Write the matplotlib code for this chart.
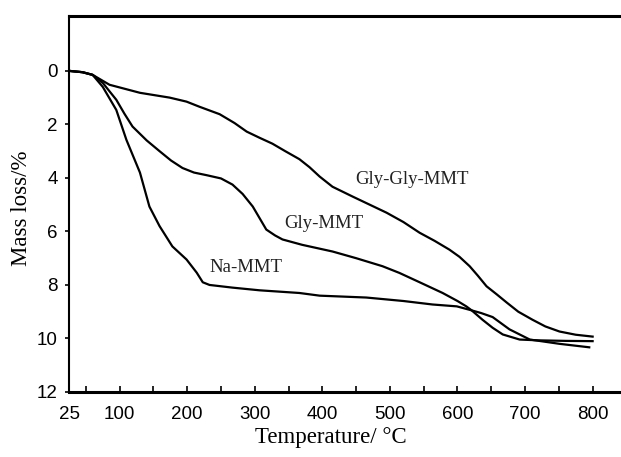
import matplotlib
matplotlib.use("Agg")
import matplotlib.pyplot as plt

# Gly-Gly-MMT
t_gg = [25, 45, 60, 85, 130, 174, 199, 218, 248, 270, 288, 307, 326, 345, 366, 381, 396, 415, 445, 470,
        495, 520, 544, 566, 588, 603, 618, 630, 643, 658, 673, 690, 711, 730, 751, 775, 800]
m_gg = [0, 0.05, 0.15, 0.52, 0.82, 1.0, 1.15, 1.34, 1.62, 1.95, 2.27, 2.5, 2.72, 3.0, 3.3, 3.6, 3.95, 4.33, 4.7, 5.0,
        5.3, 5.65, 6.05, 6.35, 6.68, 6.95, 7.3, 7.65, 8.05, 8.35, 8.66, 9.0, 9.3, 9.55, 9.74, 9.86, 9.93]

# Gly-MMT
t_g = [25, 45, 60, 75, 95, 107, 119, 140, 159, 176, 193, 210, 229, 250, 267, 282, 297, 307, 317, 330, 341,
       370, 415, 450, 489, 514, 544, 578, 600, 613, 621, 637, 652, 667, 692, 720, 760, 800]
m_g = [0, 0.05, 0.15, 0.45, 1.08, 1.6, 2.08, 2.6, 3.0, 3.35, 3.63, 3.8, 3.9, 4.02, 4.25, 4.6, 5.07, 5.5, 5.93, 6.15, 6.3,
       6.5, 6.75, 7.0, 7.3, 7.55, 7.9, 8.3, 8.6, 8.8, 8.95, 9.3, 9.6, 9.85, 10.04, 10.07, 10.09, 10.1]

# Na-MMT
t_na = [25, 45, 60, 75, 95, 110, 130, 144, 159, 178, 199, 214, 223, 233, 267, 307, 366, 396, 465, 520,
        563, 599, 621, 635, 652, 677, 707, 751, 795]
m_na = [0, 0.05, 0.15, 0.6, 1.46, 2.58, 3.8, 5.07, 5.8, 6.56, 7.05, 7.54, 7.9, 8.0, 8.1, 8.2, 8.3, 8.4, 8.47, 8.6,
        8.73, 8.8, 8.95, 9.05, 9.2, 9.66, 10.04, 10.2, 10.33]

x_ticks = [25, 100, 200, 300, 400, 500, 600, 700, 800]
x_minor = [50, 150, 250, 350, 450, 550, 650, 750]
y_ticks = [0, 2, 4, 6, 8, 10, 12]

labels = ["Gly-Gly-MMT", "Gly-MMT", "Na-MMT"]
label_pos = [(448, 4.07), (344, 5.71), (233, 7.35)]

fig = plt.figure(figsize=(6.21, 4.57), dpi=100)
ax = fig.add_axes([69/621, 1 - 392/457, (621 - 69)/621, (392 - 16)/457])

for t, m in [(t_gg, m_gg), (t_g, m_g), (t_na, m_na)]:
    ax.plot(t, m, color="black", lw=1.6, solid_joinstyle="round")

for lab, (x, y) in zip(labels, label_pos):
    ax.text(x, y, lab, family="Liberation Serif", fontsize=13.5, ha="left", va="center", color="#222222")

ax.set_xlim(25, 842)
ax.set_ylim(12, -2.05)
ax.set_xticks(x_ticks)
ax.set_xticks(x_minor, minor=True)
ax.set_yticks(y_ticks)
ax.set_yticklabels([str(v) for v in y_ticks])
ax.set_xticklabels([str(v) for v in x_ticks])

ax.tick_params(axis="x", which="both", direction="in", length=4, width=1.2, pad=10,
               labelsize=13.5, labelfontfamily="Liberation Sans")
ax.tick_params(axis="y", which="both", direction="out", length=3, width=1.2, pad=5,
               labelsize=13.5, labelfontfamily="Liberation Sans")

ax.spines["right"].set_visible(False)
ax.spines["top"].set_linewidth(2.2)
ax.spines["bottom"].set_linewidth(2.2)
ax.spines["left"].set_linewidth(1.5)

fig.text(331/621, 1 - 437/457, "Temperature/ °C", family="Liberation Serif", fontsize=16.5,
         ha="center", va="center")
fig.text(22/621, 1 - 208/457, "Mass loss/%", family="Liberation Serif", fontsize=16.5,
         ha="center", va="center", rotation=90)

fig.savefig("out.png", dpi=100)
